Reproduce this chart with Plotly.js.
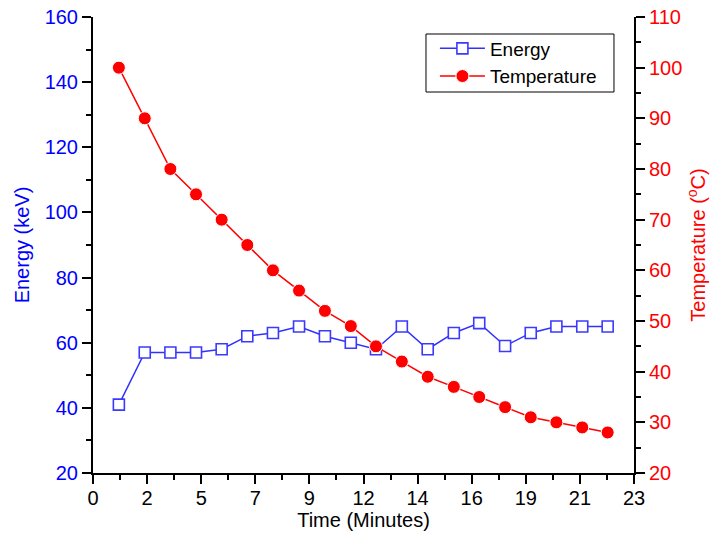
<!DOCTYPE html>
<html>
<head>
<meta charset="utf-8">
<script src="https://cdn.plot.ly/plotly-3.0.1.min.js"></script>
<style>
  html, body { margin: 0; padding: 0; background: #fff; }
  #chart { width: 716px; height: 539px; }
</style>
</head>
<body>
<div id="chart"></div>
<script>
// Sampling times (minutes)
const timeMin = [1.10, 2.20, 3.29, 4.38, 5.47, 6.56, 7.65, 8.76, 9.86, 10.96,
                 12.03, 13.13, 14.23, 15.34, 16.42, 17.52, 18.61, 19.70, 20.80, 21.88];
// Measured energy (keV)
const energyKeV = [41, 57, 57, 57, 58, 62, 63, 65, 62, 60,
                   58, 65, 58, 63, 66, 59, 63, 65, 65, 65];
// Measured temperature (°C)
const temperatureC = [100, 90, 80, 75, 70, 65, 60, 56, 52, 49,
                      45, 42, 39, 37, 35, 33, 31, 30, 29, 28];
// Time axis labels (ten equal steps across 0–23)
const timeTickText = ['0', '2', '5', '7', '9', '12', '14', '16', '19', '21', '23'];

const xMax = 23;
const step = xMax / (timeTickText.length - 1);
const timeTickVals = timeTickText.map((_, i) => i * step);
const timeMinorVals = timeTickVals.slice(0, -1).map(v => v + step / 2);

const FONT = '"Liberation Sans", Arial, Helvetica, sans-serif';
const BLUE = '#0000ff';
const RED = '#ff0000';
const FS = 20;

const traces = [
  {
    name: 'Energy',
    x: timeMin,
    y: energyKeV,
    xaxis: 'x',
    yaxis: 'y',
    mode: 'lines+markers',
    line: { color: '#3030ff', width: 1.5 },
    marker: { symbol: 'square', size: 11, color: '#ffffff',
              line: { color: '#3a3aff', width: 1.6 } },
    hoverinfo: 'x+y'
  },
  {
    name: 'Temperature',
    x: timeMin,
    y: temperatureC,
    xaxis: 'x',
    yaxis: 'y2',
    mode: 'lines+markers',
    line: { color: RED, width: 1.5 },
    marker: { symbol: 'circle', size: 13, color: RED,
              line: { color: '#ffffff', width: 1 } },
    hoverinfo: 'x+y'
  }
];

const axisCommon = {
  showgrid: false,
  zeroline: false,
  showline: true,
  linecolor: '#000',
  linewidth: 2,
  ticks: 'outside',
  ticklen: 9,
  tickwidth: 2,
  tickcolor: '#000'
};

const layout = {
  width: 716,
  height: 539,
  margin: { l: 93, r: 82, t: 17, b: 66 },
  paper_bgcolor: '#fff',
  plot_bgcolor: '#fff',
  font: { family: FONT, size: FS, color: '#000' },
  showlegend: true,
  legend: {
    x: 0.632, y: 0.9726, xanchor: 'left', yanchor: 'top',
    bgcolor: 'rgba(0,0,0,0)', borderwidth: 0,
    font: { family: FONT, size: 19, color: '#000' },
    itemwidth: 45,
    tracegroupgap: 0
  },
  // frame around the legend
  shapes: [{
    type: 'rect', xref: 'paper', yref: 'paper',
    x0: 0.6155, x1: 0.963, y0: 0.8355, y1: 0.9627,
    line: { color: '#000', width: 1 }, fillcolor: '#fff', layer: 'below'
  }],
  xaxis: Object.assign({}, axisCommon, {
    range: [0, xMax],
    tickmode: 'array',
    tickvals: timeTickVals,
    ticktext: timeTickText,
    tickfont: { family: FONT, size: FS, color: '#000' },
    ticklabelstandoff: -3,
    minor: { tickmode: 'array', tickvals: timeMinorVals, ticks: 'outside',
             ticklen: 5, tickwidth: 2, tickcolor: '#000' },
    title: { text: 'Time (Minutes)', font: { family: FONT, size: FS, color: '#000' }, standoff: 4 },
    anchor: 'y'
  }),
  xaxis2: Object.assign({}, axisCommon, {
    overlaying: 'x',
    side: 'top',
    anchor: 'y',
    range: [0, xMax],
    tickmode: 'array',
    tickvals: timeTickVals,
    ticks: 'inside',
    showticklabels: false,
    minor: { tickmode: 'array', tickvals: timeMinorVals, ticks: 'inside',
             ticklen: 5, tickwidth: 2, tickcolor: '#000' }
  }),
  yaxis: Object.assign({}, axisCommon, {
    range: [20, 160],
    dtick: 20,
    tick0: 0,
    tickfont: { family: FONT, size: FS, color: BLUE },
    minor: { dtick: 10, ticks: 'outside', ticklen: 5, tickwidth: 2, tickcolor: '#000' },
    title: { text: 'Energy (keV)', font: { family: FONT, size: FS, color: BLUE }, standoff: 10 },
    anchor: 'x'
  }),
  yaxis2: Object.assign({}, axisCommon, {
    overlaying: 'y',
    side: 'right',
    anchor: 'x',
    range: [20, 110],
    dtick: 10,
    tick0: 0,
    tickfont: { family: FONT, size: FS, color: RED },
    minor: { dtick: 5, ticks: 'outside', ticklen: 5, tickwidth: 2, tickcolor: '#000' },
    title: { text: 'Temperature (<sup>o</sup>C)', font: { family: FONT, size: FS, color: RED }, standoff: 10 }
  })
};

Plotly.newPlot('chart', traces, layout, { displayModeBar: false, staticPlot: true });
</script>
</body>
</html>
